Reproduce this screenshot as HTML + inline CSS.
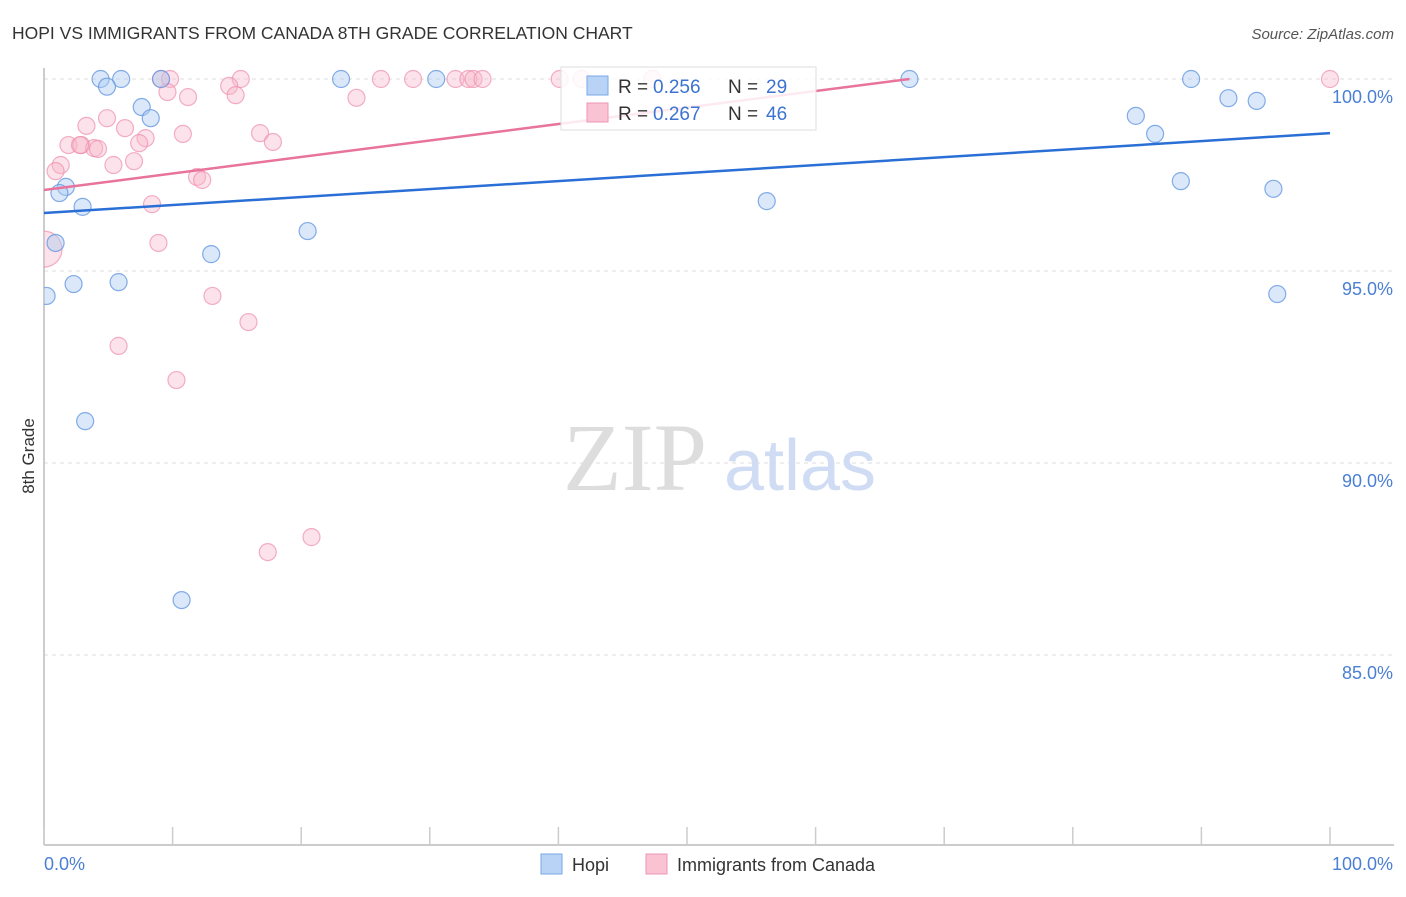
<!DOCTYPE html>
<html><head><meta charset="utf-8"><style>
body{margin:0;background:#fff;font-family:"Liberation Sans",sans-serif}
svg text{font-family:"Liberation Sans",sans-serif}
</style></head><body>
<svg id="chart" width="1406" height="892" xmlns="http://www.w3.org/2000/svg">
<defs><clipPath id="plotclip"><rect x="44" y="60" width="1360" height="785"/></clipPath></defs>
<text x="12" y="39" font-size="17.5" fill="#333">HOPI VS IMMIGRANTS FROM CANADA 8TH GRADE CORRELATION CHART</text>
<text x="1394" y="39" font-size="15" fill="#555" text-anchor="end" font-style="italic">Source: ZipAtlas.com</text>
<g id="grid"></g>
<g>
<text x="635" y="490" font-size="96" fill="#ddd" text-anchor="middle" font-family="Liberation Serif" style="font-family:'Liberation Serif',serif">ZIP</text>
<text x="800" y="490" font-size="72" fill="#cfdcf3" text-anchor="middle">atlas</text>
</g>
<line x1="44" y1="68" x2="44" y2="845" stroke="#bbb" stroke-width="1.5"/>
<line x1="44" y1="845" x2="1394" y2="845" stroke="#bbb" stroke-width="1.5"/>
<g id="xticks"></g>
<g id="points" clip-path="url(#plotclip)"></g>
<g id="trends"></g>
<text transform="translate(34,456) rotate(-90)" font-size="17" fill="#333" text-anchor="middle">8th Grade</text>
<text x="44" y="870" font-size="18" fill="#4a7fd4">0.0%</text>
<text x="1393" y="870" font-size="18" fill="#4a7fd4" text-anchor="end">100.0%</text>
<g>
<rect x="561" y="67" width="255" height="63" fill="#fff" fill-opacity="0.85" stroke="#ddd"/>
<rect x="587" y="76" width="21" height="19" fill="#b8d3f5" stroke="#7aa7e6"/>
<rect x="587" y="103" width="21" height="19" fill="#f9c3d3" stroke="#ee94b0"/>
<text x="618" y="93" font-size="19" fill="#333">R =</text>
<text x="653" y="93" font-size="19" fill="#3c73d0">0.256</text>
<text x="728" y="93" font-size="19" fill="#333">N =</text>
<text x="766" y="93" font-size="19" fill="#3c73d0">29</text>
<text x="618" y="120" font-size="19" fill="#333">R =</text>
<text x="653" y="120" font-size="19" fill="#3c73d0">0.267</text>
<text x="728" y="120" font-size="19" fill="#333">N =</text>
<text x="766" y="120" font-size="19" fill="#3c73d0">46</text>
</g>
<g>
<rect x="541" y="854" width="21" height="20" fill="#b8d3f5" stroke="#7aa7e6"/>
<text x="572" y="871" font-size="18" fill="#333">Hopi</text>
<rect x="646" y="854" width="21" height="20" fill="#f9c3d3" stroke="#ee94b0"/>
<text x="677" y="871" font-size="18" fill="#333">Immigrants from Canada</text>
</g>
</svg>
<script>
const yTicks=[100,95,90,85];
const yTickLabels=["100.0%","95.0%","90.0%","85.0%"];
const xTickValues=[0,10,20,30,40,50,60,70,80,90,100];
const hopiX=[4.4,6.0,4.9,9.1,23.1,30.5,67.3,89.2,7.6,8.3,92.1,94.3,84.9,86.4,1.7,1.2,3.0,88.4,95.6,56.2,20.5,0.9,13.0,2.3,5.8,0.2,95.9,3.2,10.7];
const hopiY=[100,100,99.8,100,100,100,100,100,99.27,98.98,99.5,99.43,99.04,98.57,97.19,97.03,96.67,97.34,97.14,96.82,96.04,95.73,95.44,94.66,94.71,94.35,94.40,91.09,86.43];
const canX=[9.1,9.8,15.3,26.2,28.7,32.0,33.0,33.4,34.1,40.1,41.8,47.3,100,9.6,14.4,14.9,11.2,24.3,4.9,3.3,6.3,10.8,7.9,16.8,17.8,1.9,2.9,3.9,4.2,7.4,1.3,5.4,7.0,0.9,11.9,12.3,8.4,8.9,13.1,15.9,5.8,10.3,17.4,20.8,0.0,2.8];
const canY=[100,100,100,100,100,100,100,100,100,100,100,100,100,99.66,99.82,99.58,99.53,99.51,98.98,98.78,98.72,98.57,98.46,98.59,98.36,98.28,98.28,98.20,98.18,98.33,97.76,97.76,97.86,97.60,97.45,97.37,96.74,95.73,94.35,93.67,93.05,92.16,87.68,88.07,95.57,98.28];
const canR=[8.5,8.5,8.5,8.5,8.5,8.5,8.5,8.5,8.5,8.5,8.5,8.5,8.5,8.5,8.5,8.5,8.5,8.5,8.5,8.5,8.5,8.5,8.5,8.5,8.5,8.5,8.5,8.5,8.5,8.5,8.5,8.5,8.5,8.5,8.5,8.5,8.5,8.5,8.5,8.5,8.5,8.5,8.5,8.5,18,8.5];
const hopiTrendX=[0,100];
const hopiTrendY=[96.51,98.59];
const canTrendX=[0,67.3];
const canTrendY=[97.11,100];
const NS="http://www.w3.org/2000/svg";
function sx(v){return 44+v*12.86;}
function sy(v){return 79+(100-v)*38.4;}
function mk(tag,attrs,parent){const e=document.createElementNS(NS,tag);for(const k in attrs)e.setAttribute(k,attrs[k]);parent.appendChild(e);return e;}
const grid=document.getElementById('grid');
yTicks.forEach((t,i)=>{
  const l=mk('line',{x1:44,x2:1394,y1:sy(t),y2:sy(t),stroke:'#ddd','stroke-dasharray':'4,4'},grid);
  
  
  const tx=mk('text',{x:1393,y:sy(t)+24,'font-size':18,fill:'#4a7fd4','text-anchor':'end'},grid);
  tx.textContent=yTickLabels[i];
  
  
});
const xt=document.getElementById('xticks');
xTickValues.forEach(v=>{
  const l=mk('line',{x1:sx(v),x2:sx(v),y1:827,y2:845,stroke:'#ccc','stroke-width':1.5},xt);
  
  
});
const pts=document.getElementById('points');
canX.forEach((v,i)=>{
  const c=mk('circle',{cx:sx(v),cy:sy(canY[i]),r:canR[i],fill:'#f7b6ca','fill-opacity':0.4,stroke:'#ee8fae','stroke-opacity':0.7,'stroke-width':1.2},pts);
  
  
});
hopiX.forEach((v,i)=>{
  const c=mk('circle',{cx:sx(v),cy:sy(hopiY[i]),r:8.5,fill:'#aecbf2','fill-opacity':0.45,stroke:'#5d92e0','stroke-opacity':0.75,'stroke-width':1.2},pts);
  
  
});
const tr=document.getElementById('trends');
const l1=mk('line',{x1:sx(hopiTrendX[0]),y1:sy(hopiTrendY[0]),x2:sx(hopiTrendX[1]),y2:sy(hopiTrendY[1]),stroke:'#2a6fd6','stroke-width':2.5},tr);


const l2=mk('line',{x1:sx(canTrendX[0]),y1:sy(canTrendY[0]),x2:sx(canTrendX[1]),y2:sy(canTrendY[1]),stroke:'#e8739b','stroke-width':2.5},tr);


</script>
</body></html>
